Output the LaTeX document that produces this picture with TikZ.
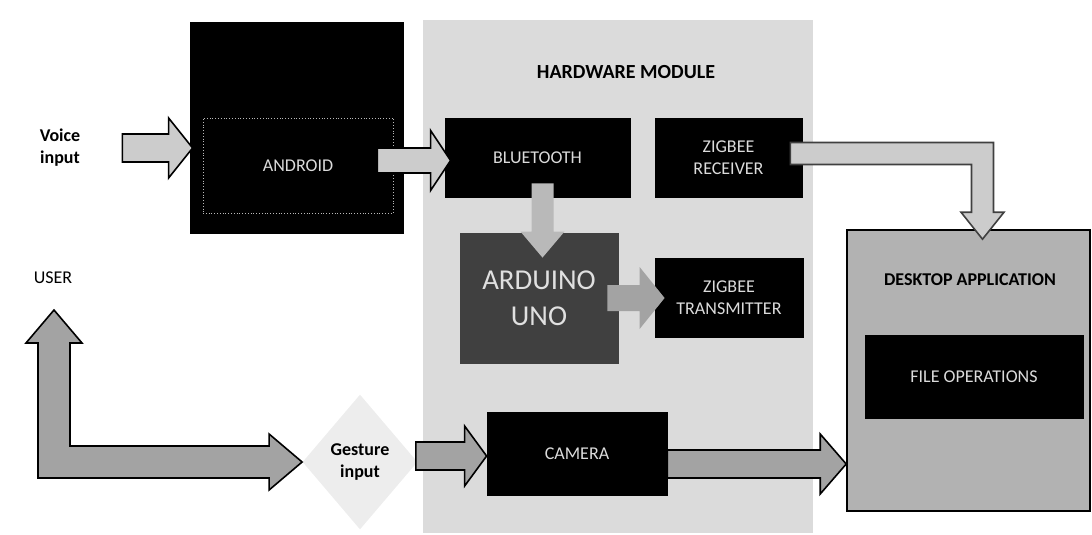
\documentclass[tikz,border=0pt]{standalone}
\usepackage{fontspec}
\setmainfont{Carlito}
\usetikzlibrary{calc, shapes.geometric, positioning}

\definecolor{hwgray}{gray}{0.86}
\definecolor{arlight}{gray}{0.80}
\definecolor{armid}{gray}{0.64}
\definecolor{deskgray}{gray}{0.70}
\definecolor{boxtext}{gray}{0.86}

\tikzset{
  ar shaft/.store in=\arsw, ar head/.store in=\arhw, ar len/.store in=\arhl,
  ar shaft=7pt, ar head=15pt, ar len=12pt,
  blackbox/.style={draw=black, fill=black, text=boxtext, align=center,
    font=\small, inner sep=2pt},
  plainlabel/.style={font=\small\bfseries, align=center},
  % block arrow pointing right
  harrow/.style={to path={let \p1=(\tikztostart), \p2=(\tikztotarget) in
    (\x1,\y1+\arsw) -- (\x2-\arhl,\y1+\arsw) -- (\x2-\arhl,\y1+\arhw) -- (\x2,\y1)
    -- (\x2-\arhl,\y1-\arhw) -- (\x2-\arhl,\y1-\arsw) -- (\x1,\y1-\arsw) -- cycle}},
  % block arrow pointing down
  varrow/.style={to path={let \p1=(\tikztostart), \p2=(\tikztotarget) in
    (\x1+\arsw,\y1) -- (\x1+\arsw,\y2+\arhl) -- (\x1+\arhw,\y2+\arhl) -- (\x1,\y2)
    -- (\x1-\arhw,\y2+\arhl) -- (\x1-\arsw,\y2+\arhl) -- (\x1-\arsw,\y1) -- cycle}},
  % right, then down
  elbowarrow/.style={to path={let \p1=(\tikztostart), \p2=(\tikztotarget) in
    (\x1,\y1+\arsw) -- (\x2+\arsw,\y1+\arsw) -- (\x2+\arsw,\y2+\arhl)
    -- (\x2+\arhw,\y2+\arhl) -- (\x2,\y2) -- (\x2-\arhw,\y2+\arhl)
    -- (\x2-\arsw,\y2+\arhl) -- (\x2-\arsw,\y1-\arsw) -- (\x1,\y1-\arsw) -- cycle}},
  % up and right, two heads
  larrow/.style={to path={let \p1=(\tikztostart), \p2=(\tikztotarget) in
    (\x1,\y1) -- (\x1+\arhw,\y1-\arhl) -- (\x1+\arsw,\y1-\arhl) -- (\x1+\arsw,\y2+\arsw)
    -- (\x2-\arhl,\y2+\arsw) -- (\x2-\arhl,\y2+\arhw) -- (\x2,\y2)
    -- (\x2-\arhl,\y2-\arhw) -- (\x2-\arhl,\y2-\arsw) -- (\x1-\arsw,\y2-\arsw)
    -- (\x1-\arsw,\y1-\arhl) -- (\x1-\arhw,\y1-\arhl) -- cycle}}
}

\begin{document}
\begin{tikzpicture}[x=0.5pt, y=-0.5pt]

    % =================================================================
    % 1. BACKGROUND AREAS
    % =================================================================
    \useasboundingbox (0,0) rectangle (1092,535);
    \fill[hwgray] (423,20) rectangle (813,533);
    \node[font=\bfseries] (hwtitle) at (626,72) {HARDWARE MODULE};

    % =================================================================
    % 2. BOXES
    % =================================================================
    \node[draw=black, fill=black, minimum width=106.5pt, minimum height=105.5pt]
        (android) at (296.5,127.5) {};
    \node[blackbox, draw=gray!55, densely dotted, minimum width=95pt, minimum height=47.5pt]
        (andin) at (298,165.5) {ANDROID};

    \node[blackbox, minimum width=92.5pt, minimum height=39.5pt]
        (bt) at (537.5,157.5) {BLUETOOTH};
    \node[blackbox, minimum width=73.5pt, minimum height=39.5pt]
        (zrx) at (728.5,157.5) {ZIGBEE\\RECEIVER};
    \node[blackbox, fill=black!75, draw=black!75, text=white!88!black,
        font=\Large, minimum width=79pt, minimum height=65pt]
        (arduino) at (539,298) {ARDUINO\\UNO};
    \node[blackbox, minimum width=74pt, minimum height=39.5pt]
        (ztx) at (729,297.5) {ZIGBEE\\TRANSMITTER};
    \node[blackbox, minimum width=90pt, minimum height=41.5pt]
        (camera) at (577,453.5) {CAMERA};

    \node[draw=black, thick, fill=deskgray, minimum width=121.5pt, minimum height=140.5pt]
        (desk) at (968.5,370.5) {};
    \node[plainlabel] (desktitle) at (970,280) {DESKTOP APPLICATION};
    \node[blackbox, minimum width=109pt, minimum height=41.5pt]
        (fileops) at (974,376.5) {FILE OPERATIONS};

    % =================================================================
    % 3. INPUT LABELS
    % =================================================================
    \node[plainlabel] (voice) at (60,148) {Voice\\input};
    \node[font=\small] (user) at (53,278) {USER};
    \node[diamond, fill=gray!14, inner sep=0pt, minimum width=57.5pt,
        minimum height=67.5pt, plainlabel] (gesture) at (360,462) {Gesture\\input};
    \coordinate (usertip) at (54,310);

    % =================================================================
    % 4. BLOCK ARROWS
    % =================================================================
    \draw[harrow, fill=arlight, thick] ($(voice.east)+(35,0)$) to ($(android.west)+(3,0)$);
    \draw[harrow, fill=arlight, thick, ar shaft=6.25pt, ar len=10pt]
        ($(andin.east)+(-16,-5)$) to ($(bt.west)+(6,0)$);
    \draw[varrow, fill=gray!55, draw=none, ar shaft=5.5pt, ar head=11pt, ar len=13pt]
        ($(bt.south)+(5,-14)$) to ($(arduino.north)+(5,25)$);
    \draw[harrow, fill=armid, draw=none, ar shaft=6.5pt, ar head=15.5pt, ar len=12.5pt]
        ($(arduino.east)+(-11,0)$) to ($(ztx.west)+(10,0)$);
    \draw[elbowarrow, fill=arlight, draw=black!75, thick, ar shaft=5.5pt, ar head=10.75pt,
        ar len=13.5pt] ($(zrx.east)+(-12,-4)$) to ($(desk.north)+(14,10)$);
    \draw[harrow, fill=armid, thick, ar shaft=7pt, ar head=15pt, ar len=11pt]
        ($(gesture.east)+(-2,-6)$) to (camera.west);
    \draw[harrow, fill=armid, thick, ar shaft=7pt, ar head=15pt, ar len=13pt]
        ($(camera.east)+(0,10.5)$) to (desk.west);
    \draw[larrow, fill=armid, thick, ar shaft=8pt, ar head=14pt, ar len=16.5pt]
        (usertip) to (gesture.west);

\end{tikzpicture}
\end{document}
